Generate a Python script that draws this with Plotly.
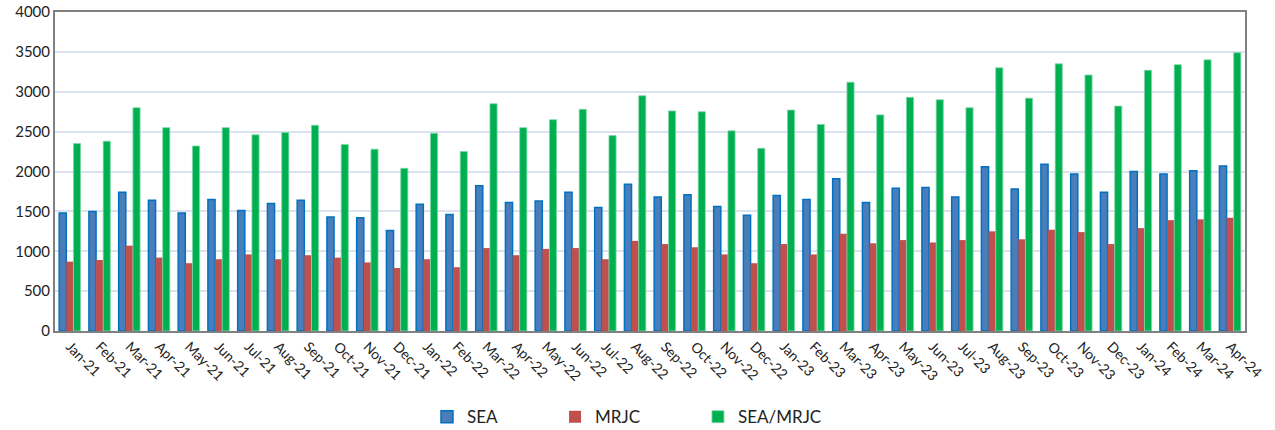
import plotly.graph_objects as go

months = ["Jan-21","Feb-21","Mar-21","Apr-21","May-21","Jun-21","Jul-21","Aug-21","Sep-21","Oct-21","Nov-21","Dec-21",
          "Jan-22","Feb-22","Mar-22","Apr-22","May-22","Jun-22","Jul-22","Aug-22","Sep-22","Oct-22","Nov-22","Dec-22",
          "Jan-23","Feb-23","Mar-23","Apr-23","May-23","Jun-23","Jul-23","Aug-23","Sep-23","Oct-23","Nov-23","Dec-23",
          "Jan-24","Feb-24","Mar-24","Apr-24"]

sea = [1480, 1500, 1740, 1640, 1480, 1650, 1510, 1600, 1640, 1430, 1420, 1260,
       1590, 1460, 1820, 1610, 1630, 1740, 1550, 1840, 1680, 1710, 1560, 1450,
       1700, 1650, 1910, 1610, 1790, 1800, 1680, 2060, 1780, 2090, 1970, 1740,
       2000, 1970, 2010, 2070]

mrjc = [870, 890, 1070, 920, 850, 900, 960, 900, 950, 920, 860, 790,
        900, 800, 1040, 950, 1030, 1040, 900, 1130, 1090, 1050, 960, 850,
        1090, 960, 1220, 1100, 1140, 1110, 1140, 1250, 1150, 1270, 1240, 1090,
        1290, 1390, 1400, 1420]

sea_mrjc = [2350, 2380, 2800, 2550, 2320, 2550, 2460, 2490, 2580, 2340, 2280, 2040,
            2480, 2250, 2850, 2550, 2650, 2780, 2450, 2950, 2760, 2750, 2510, 2290,
            2770, 2590, 3120, 2710, 2930, 2900, 2800, 3300, 2920, 3350, 3210, 2820,
            3270, 3340, 3400, 3490]

y_ticks = [0, 500, 1000, 1500, 2000, 2500, 3000, 3500, 4000]

fig = go.Figure()
fig.add_trace(go.Bar(x=months, y=sea, name="SEA", legend="legend",
                     marker=dict(color="#4a7ebb", line=dict(color="#0070c0", width=1.5))))
fig.add_trace(go.Bar(x=months, y=mrjc, name="MRJC", legend="legend2",
                     marker=dict(color="#c0504d", line=dict(width=0))))
fig.add_trace(go.Bar(x=months, y=sea_mrjc, name="SEA/MRJC", legend="legend3",
                     marker=dict(color="#00b050", line=dict(color="#7fd8a7", width=0.8))))

leg_common = dict(orientation="h", xanchor="left", y=-0.27, yanchor="middle",
                  font=dict(size=17, color="#222222"), itemwidth=30,
                  bgcolor="rgba(0,0,0,0)")

fig.update_layout(
    width=1275, height=430,
    margin=dict(l=55, r=30, t=12, b=99, autoexpand=False),
    paper_bgcolor="white", plot_bgcolor="white",
    barmode="group", bargap=0.28, bargroupgap=0,
    font=dict(family="Lato, 'Open Sans', sans-serif", size=14, color="#222222"),
    showlegend=True,
    legend=dict(x=0.3126, **leg_common),
    legend2=dict(x=0.4202, **leg_common),
    legend3=dict(x=0.5403, **leg_common),
    xaxis=dict(tickangle=45, tickfont=dict(size=14), showline=True, linecolor="#808080",
               linewidth=2, mirror=True, ticks="", showgrid=False, automargin=False),
    yaxis=dict(range=[0, 4000], tickvals=y_ticks, tickfont=dict(size=15),
               showline=True, linecolor="#808080", linewidth=2, mirror=True,
               gridcolor="#dbe2f0", gridwidth=2, ticks="", zeroline=False, automargin=False),
)

fig.write_html("out.html", config={"displayModeBar": False},
               post_script="document.body.style.margin='0';")
